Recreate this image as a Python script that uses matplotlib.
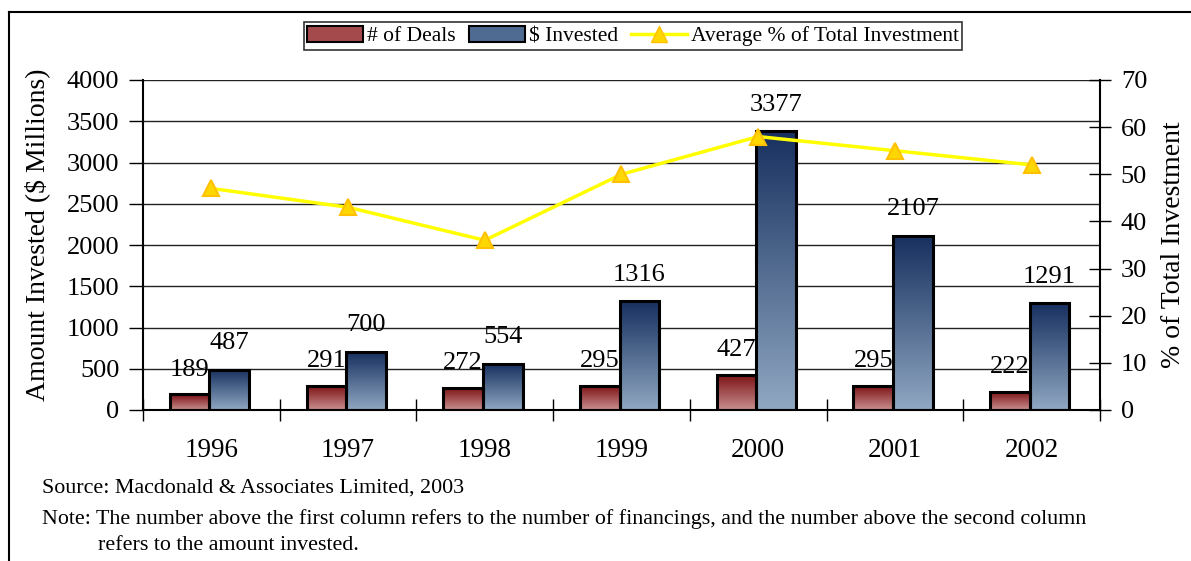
import numpy as np
import matplotlib
matplotlib.use("Agg")
import matplotlib.pyplot as plt
from matplotlib.colors import LinearSegmentedColormap
from matplotlib.lines import Line2D
from matplotlib.patches import Patch

plt.rcParams['font.family'] = ['Liberation Serif', 'DejaVu Serif']

# データ
years = ['1996', '1997', '1998', '1999', '2000', '2001', '2002']
deals = [189, 291, 272, 295, 427, 295, 222]
invested = [487, 700, 554, 1316, 3377, 2107, 1291]
avg_pct = [47, 43, 36, 50, 58, 55, 52]

fig = plt.figure(figsize=(11.91, 5.61), dpi=100)
ax = fig.add_axes([143 / 1191, 151 / 561, 957 / 1191, 330 / 561])
ax2 = ax.twinx()

x = np.arange(len(years))
w = 0.29
shift = -0.014

red_cmap = LinearSegmentedColormap.from_list('red_grad', ['#7a0f12', '#c98f8f'])
blue_cmap = LinearSegmentedColormap.from_list('blue_grad', ['#17305f', '#90a8c2'])
grad = np.linspace(0, 1, 256).reshape(-1, 1)


def gradient_bars(bars, cmap):
    # 棒の中を上から下へのグラデーションで塗る
    for b in bars:
        bx, by = b.get_x(), b.get_y()
        bw, bh = b.get_width(), b.get_height()
        im = ax.imshow(grad, cmap=cmap, aspect='auto', origin='upper',
                       extent=[bx, bx + bw, by, by + bh], zorder=2)
        im.set_clip_path(b)


bars_d = ax.bar(x + shift - w / 2, deals, w, facecolor='none', edgecolor='black', linewidth=2.2, zorder=3)
bars_i = ax.bar(x + shift + w / 2, invested, w, facecolor='none', edgecolor='black', linewidth=2.2, zorder=3)
gradient_bars(bars_d, red_cmap)
gradient_bars(bars_i, blue_cmap)

# 数値ラベル
for xi, v in zip(x + shift - w / 2, deals):
    ax.annotate(str(v), (xi, v), xytext=(0, 13.5), textcoords='offset points',
                ha='center', va='baseline', fontsize=19, zorder=5)
for xi, v in zip(x + shift + w / 2, invested):
    ax.annotate(str(v), (xi, v), xytext=(0, 15), textcoords='offset points',
                ha='center', va='baseline', fontsize=19, zorder=5)

ax.set_xlim(-0.5, len(years) - 0.5)
ax.set_ylim(0, 4000)
ax.set_yticks(np.arange(0, 4001, 500))
ax.set_xticks(x)
ax.set_xticklabels(years)
ax.set_xticks(np.arange(-0.5, len(years), 1), minor=True)
ax.tick_params(axis='x', which='major', length=0, pad=20, labelsize=19.5)
ax.tick_params(axis='x', which='minor', direction='inout', length=16, width=1)
ax.tick_params(axis='y', direction='out', length=10, width=1, pad=7, labelsize=19)
ax.grid(axis='y', color='#222222', linewidth=1, zorder=0)
ax.set_axisbelow(True)
ax.spines['top'].set_visible(False)
ax.spines['right'].set_visible(False)
ax.spines['left'].set_linewidth(1.5)
ax.spines['bottom'].set_linewidth(1.5)
ax.set_ylabel('Amount Invested ($ Millions)', fontsize=20)
ax.yaxis.set_label_coords(-0.097, 0.53)

# 平均投資比率（右軸）
ax2.plot(x, avg_pct, color='#ffff00', linewidth=2.5, marker='^', markersize=12,
         markerfacecolor='#ffd700', markeredgecolor='#ffc000', markeredgewidth=1.5, zorder=4)
ax2.set_ylim(0, 70)
ax2.set_yticks(np.arange(0, 71, 10))
ax2.tick_params(axis='y', direction='inout', length=16, width=1, pad=7, labelsize=19)
ax2.spines['top'].set_visible(False)
ax2.spines['left'].set_visible(False)
ax2.spines['bottom'].set_visible(False)
ax2.spines['right'].set_linewidth(1.5)
ax2.set_ylabel('% of Total Investment', fontsize=20, labelpad=10)

handles = [
    Patch(facecolor='#a44a4d', edgecolor='black', linewidth=1.5, label='# of Deals'),
    Patch(facecolor='#4f6b92', edgecolor='black', linewidth=1.5, label='$ Invested'),
    Line2D([], [], color='#ffff00', linewidth=2.5, marker='^', markersize=12,
           markerfacecolor='#ffd700', markeredgecolor='#ffc000', label='Average % of Total Investment'),
]
leg = fig.legend(handles=handles, loc='center', bbox_to_anchor=(633 / 1191, 1 - 36 / 561),
                 ncol=3, fontsize=15.5, frameon=True, fancybox=False, edgecolor='black',
                 handlelength=2.6, handleheight=0.8, handletextpad=0.2, columnspacing=0.6,
                 borderpad=0.15, borderaxespad=0)
leg.get_frame().set_linewidth(1.2)

# 出典と注記
fig.text(42 / 1191, 1 - 488 / 561, 'Source: Macdonald & Associates Limited, 2003', fontsize=15.8, va='center')
fig.text(42 / 1191, 1 - 519 / 561,
         'Note: The number above the first column refers to the number of financings, and the number above the second column',
         fontsize=15.8, va='center')
fig.text(98 / 1191, 1 - 546 / 561, 'refers to the amount invested.', fontsize=15.8, va='center')

# 外枠（上と左）
fig.add_artist(Line2D([9 / 1191, 1], [1 - 12 / 561, 1 - 12 / 561], color='black', linewidth=1.5))
fig.add_artist(Line2D([9 / 1191, 9 / 1191], [0, 1 - 12 / 561], color='black', linewidth=1.5))

fig.savefig('out.png', dpi=100)
